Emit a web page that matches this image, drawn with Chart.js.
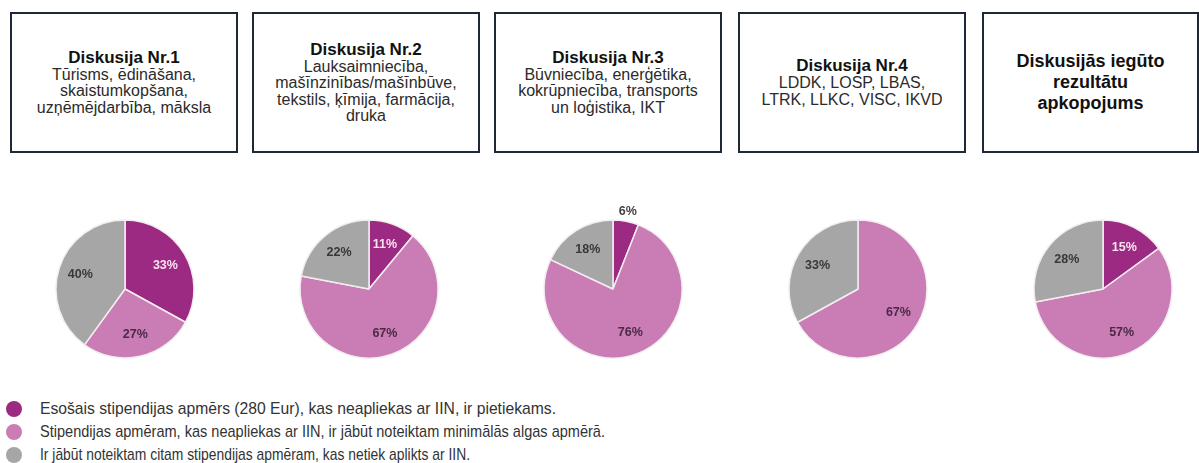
<!DOCTYPE html>
<html lang="lv">
<head>
<meta charset="utf-8">
<script src="https://cdn.jsdelivr.net/npm/chart.js@4.4.1/dist/chart.umd.min.js"></script>
<style>
  body { margin: 0; width: 1199px; height: 463px; background: #fff; position: relative; overflow: hidden;
         font-family: Arial, "Liberation Sans", sans-serif; }
  .box { position: absolute; top: 12px; height: 141px; box-sizing: border-box; border: 2px solid #1e2836;
         display: flex; flex-direction: column; justify-content: center; align-items: center; text-align: center; }
  .box .t { font-weight: bold; font-size: 17px; line-height: 18px; color: #111; }
  .box .s { font-size: 16px; line-height: 16.5px; color: #2b2b2b; }
  .box.sum .t { font-size: 18px; line-height: 21px; }
  canvas.pie { position: absolute; }
  .legend { position: absolute; left: 6px; top: 397px; }
  .legend .row { height: 23px; display: flex; align-items: center; white-space: nowrap; }
  .legend .dot { width: 16px; height: 16px; border-radius: 50%; margin-right: 18px; flex: none; }
  .legend .txt { font-size: 17px; color: #333; transform-origin: left center; display: inline-block; }
</style>
</head>
<body>
<div id="boxes"></div>
<div id="pies"></div>
<div class="legend" id="legend"></div>

<script>
// virsraksti
const boxTitles = ['Diskusija Nr.1', 'Diskusija Nr.2', 'Diskusija Nr.3', 'Diskusija Nr.4', 'Diskusijās iegūto<br>rezultātu<br>apkopojums'];
const boxSubtitles = [
    'Tūrisms, ēdināšana,<br>skaistumkopšana,<br>uzņēmējdarbība, māksla',
    'Lauksaimniecība,<br>mašīnzinības/mašīnbūve,<br>tekstils, ķīmija, farmācija,<br>druka',
    'Būvniecība, enerģētika,<br>kokrūpniecība, transports<br>un loģistika, IKT',
    'LDDK, LOSP, LBAS,<br>LTRK, LLKC, VISC, IKVD',
    ''
];

// kategorijas
const categories = [
    'Esošais stipendijas apmērs (280 Eur), kas neapliekas ar IIN, ir pietiekams.',
    'Stipendijas apmēram, kas neapliekas ar IIN, ir jābūt noteiktam minimālās algas apmērā.',
    'Ir jābūt noteiktam citam stipendijas apmēram, kas netiek aplikts ar IIN.'
];

// procenti katrā diskusijā
const disk1 = [33, 27, 40];
const disk2 = [11, 67, 22];
const disk3 = [6, 76, 18];
const disk4 = [0, 67, 33];
const kopsavilkums = [15, 57, 28];
const allShares = [disk1, disk2, disk3, disk4, kopsavilkums];

const colors = ['#9c2a82', '#c97db4', '#a6a6a6'];
const labelColors = ['#f6e4f1', '#4b2a46', '#383838'];

// izkārtojums
const boxLeft = [10, 252, 494, 738, 982];
const boxWidth = [228, 228, 228, 228, 217];
const pieX = [125, 369, 613, 858, 1103];
const pieY = 289;
const legendTextWidth = [516, 565, 430];

const boxesEl = document.getElementById('boxes');
boxTitles.forEach(function (t, i) {
    const b = document.createElement('div');
    b.className = 'box' + (i === 4 ? ' sum' : '');
    b.style.left = boxLeft[i] + 'px';
    b.style.width = boxWidth[i] + 'px';
    b.innerHTML = '<div class="t">' + t + '</div>' + (boxSubtitles[i] ? '<div class="s">' + boxSubtitles[i] + '</div>' : '');
    boxesEl.appendChild(b);
});

const pctLabels = {
    id: 'pctLabels',
    afterDatasetsDraw(chart) {
        const ctx = chart.ctx;
        const meta = chart.getDatasetMeta(0);
        const vals = chart.data.datasets[0].data;
        ctx.save();
        ctx.font = 'bold 12.5px Arial, "Liberation Sans", sans-serif';
        ctx.textAlign = 'center';
        ctx.textBaseline = 'middle';
        meta.data.forEach(function (arc, i) {
            const v = vals[i];
            if (!v) return;
            const p = arc.getProps(['x', 'y', 'startAngle', 'endAngle', 'outerRadius'], true);
            const mid = (p.startAngle + p.endAngle) / 2;
            const small = v < 8;
            const r = p.outerRadius * (small ? 1.15 : 0.68);
            ctx.fillStyle = small ? '#444' : labelColors[i];
            ctx.fillText(v + '%', p.x + Math.cos(mid) * r, p.y + Math.sin(mid) * r);
        });
        ctx.restore();
    }
};

const piesEl = document.getElementById('pies');
allShares.forEach(function (shares, i) {
    const c = document.createElement('canvas');
    c.className = 'pie';
    c.width = 240;
    c.height = 190;
    c.style.left = (pieX[i] - 120) + 'px';
    c.style.top = (pieY - 95) + 'px';
    piesEl.appendChild(c);
    new Chart(c.getContext('2d'), {
        type: 'pie',
        data: {
            labels: categories,
            datasets: [{
                data: shares,
                backgroundColor: colors,
                borderColor: '#f3edf1',
                borderWidth: 1.5,
                radius: 69,
                hoverOffset: 0
            }]
        },
        options: {
            responsive: false,
            animation: false,
            events: [],
            plugins: {
                legend: { display: false },
                tooltip: { enabled: false }
            }
        },
        plugins: [pctLabels]
    });
});

// leģenda
const legendEl = document.getElementById('legend');
categories.forEach(function (lbl, i) {
    const row = document.createElement('div');
    row.className = 'row';
    row.innerHTML = '<span class="dot" style="background:' + colors[i] + '"></span><span class="txt">' + lbl + '</span>';
    legendEl.appendChild(row);
});
legendEl.querySelectorAll('.txt').forEach(function (s, i) {
    const k = legendTextWidth[i] / s.getBoundingClientRect().width;
    s.style.transform = 'scaleX(' + k + ')';
});
</script>
</body>
</html>
